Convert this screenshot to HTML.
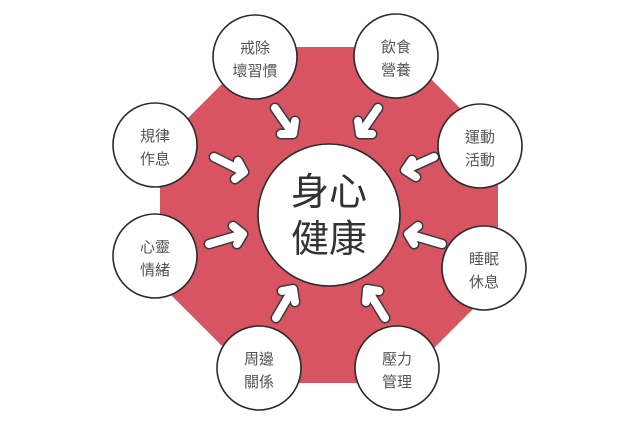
<!DOCTYPE html>
<html><head><meta charset="utf-8"><style>
html,body{margin:0;padding:0;background:#fff;}
svg text{font-family:"Liberation Sans","Noto Sans CJK TC",sans-serif;}
</style></head><body>
<svg width="635" height="423" viewBox="0 0 635 423" xmlns="http://www.w3.org/2000/svg">
<polygon points="259,47 399,47 498,146 498,284 399,383 259,383 160,284 160,146" fill="#d85462"/>
<g stroke-linecap="round" stroke-linejoin="round" fill="none">
<g id="arrows" stroke="#3a3a3a" stroke-width="11">
<path d="M275,108 L293,134 M281,134 L293,134 L295,121"/>
<path d="M378,108 L360,134 M372,134 L360,134 L358,121"/>
<path d="M434,157 L405,170 M412,160 L405,170 L416,177"/>
<path d="M442,244 L408,234 M414,244 L408,234 L418,226"/>
<path d="M385,318 L367,289 M366,302 L367,289 L379,291"/>
<path d="M276,318 L293,289 M282,291 L293,289 L295,302"/>
<path d="M209,244 L243,234 M233,226 L243,234 L237,244"/>
<path d="M214,157 L244,172 M235,179 L244,172 L238,161"/>
</g>
<g stroke="#fff" stroke-width="8">
<path d="M275,108 L293,134 M281,134 L293,134 L295,121"/>
<path d="M378,108 L360,134 M372,134 L360,134 L358,121"/>
<path d="M434,157 L405,170 M412,160 L405,170 L416,177"/>
<path d="M442,244 L408,234 M414,244 L408,234 L418,226"/>
<path d="M385,318 L367,289 M366,302 L367,289 L379,291"/>
<path d="M276,318 L293,289 M282,291 L293,289 L295,302"/>
<path d="M209,244 L243,234 M233,226 L243,234 L237,244"/>
<path d="M214,157 L244,172 M235,179 L244,172 L238,161"/>
</g>
</g>
<g fill="#fff" stroke="#2a2a2a" stroke-width="1.6">
<circle cx="329" cy="215" r="71"/>
<circle cx="255" cy="57" r="42"/>
<circle cx="396" cy="56" r="42"/>
<circle cx="480" cy="146" r="42"/>
<circle cx="484" cy="268" r="42"/>
<circle cx="397" cy="368" r="42"/>
<circle cx="259" cy="368" r="42"/>
<circle cx="155" cy="256" r="42"/>
<circle cx="155" cy="145" r="42"/>
</g>
<g fill="#555" font-size="15" text-anchor="middle">
<text x="255" y="53">戒除</text><text x="255" y="76">壞習慣</text>
<text x="396" y="52">飲食</text><text x="396" y="75">營養</text>
<text x="480" y="142">運動</text><text x="480" y="165">活動</text>
<text x="484" y="264">睡眠</text><text x="484" y="287">休息</text>
<text x="397" y="364">壓力</text><text x="397" y="387">管理</text>
<text x="259" y="364">周邊</text><text x="259" y="387">關係</text>
<text x="155" y="252">心靈</text><text x="155" y="275">情緒</text>
<text x="155" y="141">規律</text><text x="155" y="164">作息</text>
</g>
<g fill="#333" font-size="38" text-anchor="middle">
<text x="329" y="205">身心</text><text x="329" y="252">健康</text>
</g>
</svg>
</body></html>
